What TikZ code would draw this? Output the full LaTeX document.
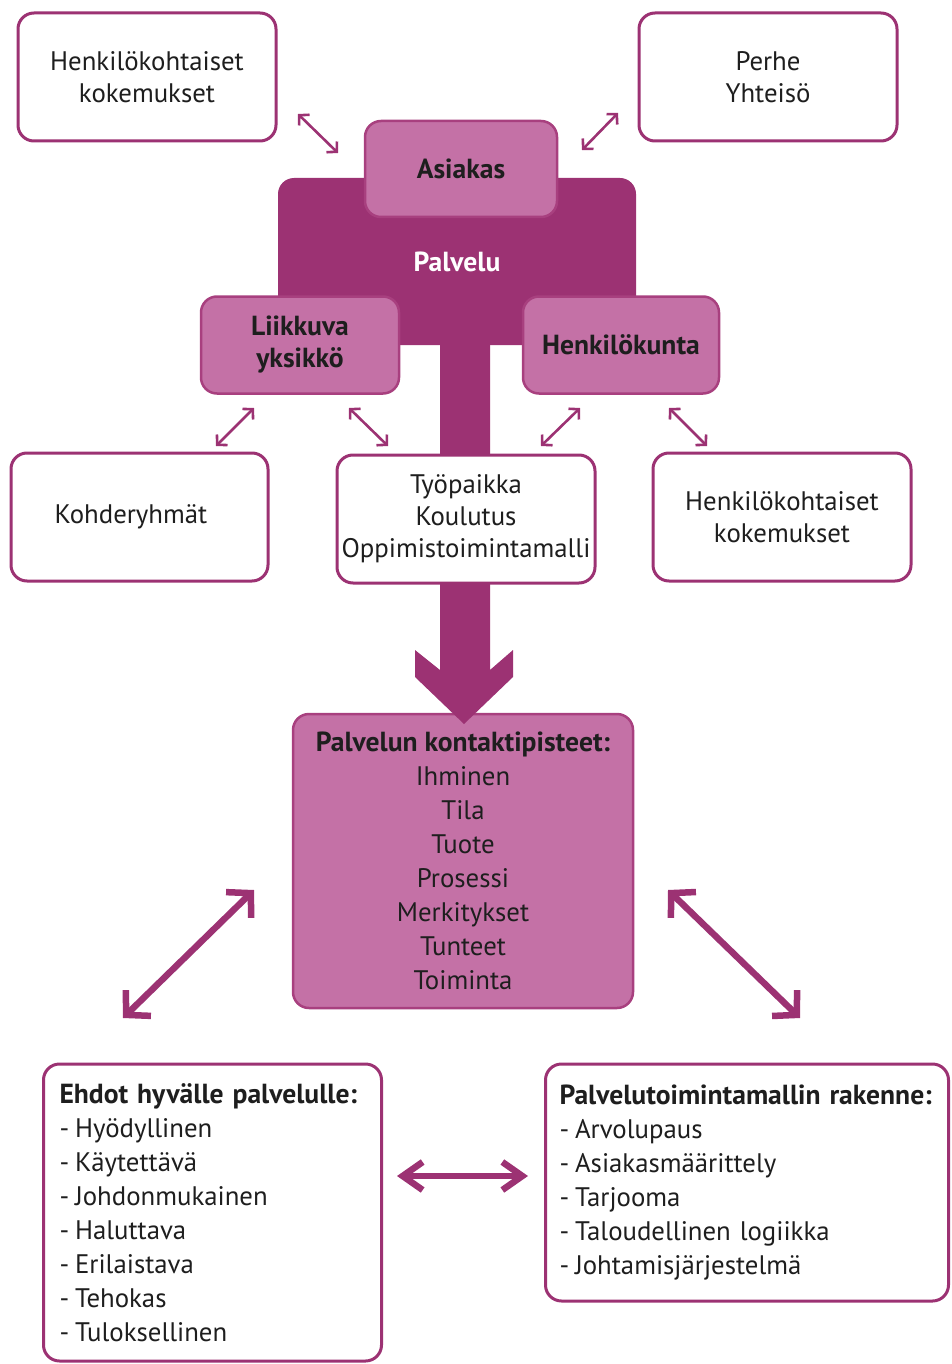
\documentclass[tikz,border=0pt]{standalone}
\usepackage{fontspec}
\setmainfont{PT Sans}
\usetikzlibrary{arrows.meta,calc}
\definecolor{plum}{HTML}{9C3273}
\definecolor{orchid}{HTML}{C471A6}
\definecolor{orchidline}{HTML}{A8407F}
\definecolor{ink}{HTML}{1E1E1E}
\newcommand{\hd}[1]{{\fontsize{27.6}{34}\selectfont\bfseries #1}}
\newcommand{\itm}{-\hspace{0.22em}}
\begin{document}
\begin{tikzpicture}[x=1pt,y=-1pt,
  every node/.style={font=\fontsize{26.8}{32}\selectfont, text=ink, align=center, inner sep=0pt},
  wide/.style={font=\fontsize{26.8}{34}\selectfont},
  whitebox/.style={draw=plum, line width=3pt, fill=white, rounded corners=16pt},
  pinkbox/.style={draw=orchidline, line width=2.5pt, fill=orchid, rounded corners=16pt},
  bold/.style={font=\fontsize{27.6}{32}\selectfont\bfseries},
  smallarrow/.style={draw=plum, line width=2.6pt,
    {Straight Barb[sharp,length=7pt,width=15pt]}-{Straight Barb[sharp,length=7pt,width=15pt]}},
  diagarrow/.style={draw=plum, line width=6.5pt,
    {Straight Barb[sharp,length=17pt,width=36pt]}-{Straight Barb[sharp,length=17pt,width=36pt]}},
  flatarrow/.style={draw=plum, line width=6.5pt,
    {Straight Barb[sharp,length=20pt,width=28pt]}-{Straight Barb[sharp,length=20pt,width=28pt]}}
]
\useasboundingbox (0,0) rectangle (952,1364);
\clip (0,0) rectangle (952,1364);

% top outer boxes
\node[whitebox, minimum width=258pt, minimum height=128pt] (expA) at (147,77)
  {Henkilökohtaiset\\kokemukset};
\node[whitebox, minimum width=258pt, minimum height=128pt] (family) at (768,77)
  {Perhe\\Yhteisö};

% service core
\node[fill=plum, rounded corners=16pt, minimum width=358pt, minimum height=167pt,
      bold] (palvelu) at (457,261.5) {\textcolor{white}{Palvelu}};

% contact point box
\node[pinkbox, wide, minimum width=340pt, minimum height=294pt] (contact) at (463,861)
  {\hd{Palvelun kontaktipisteet:}\\Ihminen\\Tila\\Tuote\\Prosessi\\Merkitykset\\Tunteet\\Toiminta};

% trunk from the service core down to the contact points
\coordinate (tip) at (464,724);
\fill[plum] ($(tip)+(-24,-384)$) -- ($(tip)+(-24,-54)$) -- ($(tip)+(-49,-74)$)
  -- ($(tip)+(-49,-47)$) -- (tip) -- ($(tip)+(49,-47)$) -- ($(tip)+(49,-74)$)
  -- ($(tip)+(26,-54)$) -- ($(tip)+(26,-384)$) -- cycle;

% core components
\node[pinkbox, bold, minimum width=192pt, minimum height=96pt] (asiakas) at (461,169) {Asiakas};
\node[pinkbox, bold, minimum width=198pt, minimum height=97pt] (liikkuva) at (300,345) {Liikkuva\\yksikkö};
\node[pinkbox, bold, minimum width=196pt, minimum height=97pt] (staff) at (621,345) {Henkilökunta};

% middle row
\node[whitebox, minimum width=257pt, minimum height=128pt] (groups) at (139.5,517)
  {Kohderyhmät\hspace*{17pt}};
\node[whitebox, minimum width=258pt, minimum height=128pt] (work) at (466,519)
  {Työpaikka\\Koulutus\\Oppimistoimintamalli};
\node[whitebox, minimum width=258pt, minimum height=128pt] (expB) at (782,517)
  {Henkilökohtaiset\\kokemukset};

% bottom boxes
\node[whitebox, wide, align=left, inner xsep=16pt, text width=306pt, minimum height=297pt] (conditions) at (212.5,1212.5)
  {\hd{Ehdot hyvälle palvelulle:}\\\itm Hyödyllinen\\\itm Käytettävä\\\itm Johdonmukainen\\\itm Haluttava\\\itm Erilaistava\\\itm Tehokas\\\itm Tuloksellinen};
\node[whitebox, wide, align=left, inner xsep=14pt, text width=375pt, minimum height=237pt] (structure) at (747,1182.5)
  {\hd{Palvelutoimintamallin rakenne:}\\\itm Arvolupaus\\\itm Asiakasmäärittely\\\itm Tarjooma\\\itm Taloudellinen logiikka\\\itm Johtamisjärjestelmä};

% thin double arrows
\coordinate (a1) at (298,114);  \coordinate (b1) at (338,153);
\coordinate (a2) at (618,113);  \coordinate (b2) at (582,150);
\coordinate (a3) at (254,408);  \coordinate (b3) at (216,446);
\coordinate (a4) at (349,408);  \coordinate (b4) at (388,446);
\coordinate (a5) at (580,408);  \coordinate (b5) at (541,446);
\coordinate (a6) at (669,408);  \coordinate (b6) at (707,446);
\foreach \i in {1,...,6} { \draw[smallarrow] (a\i) -- (b\i); }

% thick double arrows
\coordinate (c1) at (254,890); \coordinate (d1) at (123,1018);
\coordinate (c2) at (668,890); \coordinate (d2) at (800,1018);
\draw[diagarrow] (c1) -- (d1);
\draw[diagarrow] (c2) -- (d2);
\coordinate (e1) at (397,1176); \coordinate (f1) at (528,1176);
\draw[flatarrow] (e1) -- (f1);
\end{tikzpicture}
\end{document}
